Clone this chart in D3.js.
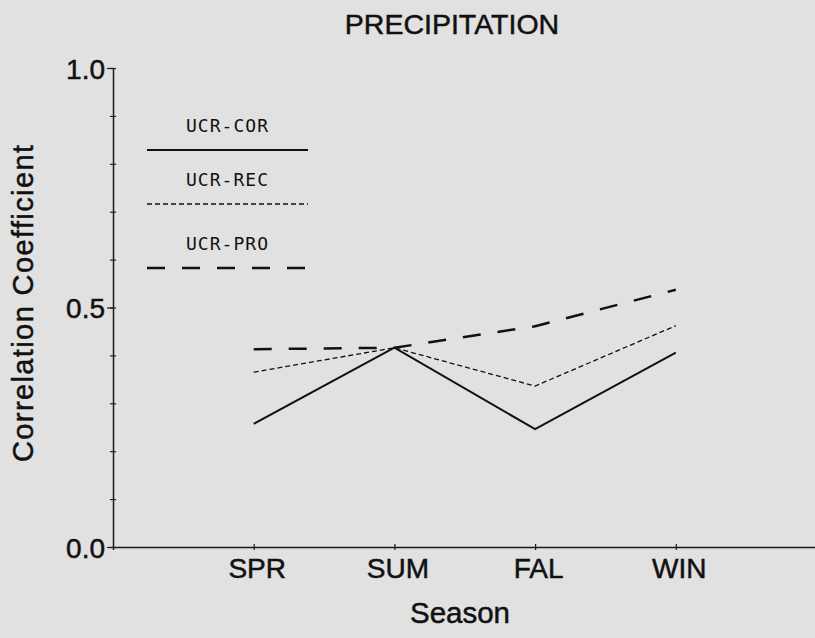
<!DOCTYPE html>
<html>
<head>
<meta charset="utf-8">
<script src="https://cdn.jsdelivr.net/npm/d3@7"></script>
<style>
    body { margin: 0; background: #e1e1e1; }
    svg { display: block; }
    .axis path, .axis line { stroke: #1a1a1a; }
    .axis text, .label { font-family: "Liberation Sans", Arial, sans-serif; fill: #111; stroke: #111; stroke-width: 0.5; }
</style>
</head>
<body>
<script>
    // chart data
    var seasons = ["SPR", "SUM", "FAL", "WIN"];
    var seriesNames = ["UCR-COR", "UCR-REC", "UCR-PRO"];
    var corValues = [0.257, 0.416, 0.246, 0.406];
    var recValues = [0.365, 0.416, 0.336, 0.462];
    var proValues = [0.413, 0.416, 0.461, 0.537];
    var yTicks = [0, 0.1, 0.2, 0.3, 0.4, 0.5, 0.6, 0.7, 0.8, 0.9, 1.0];
    var yLabels = [0, 0.5, 1.0];

    var width = 815, height = 638;

    var svg = d3.select("body")
        .append("svg")
        .attr("width", width)
        .attr("height", height);

    // scales: seasons sit at positions 1..4, axis runs on to the edge
    var x = d3.scaleLinear().domain([0, 5]).range([113, 816.5]);
    var y = d3.scaleLinear().domain([0, 1]).range([547, 68]);

    // y axis, minor ticks cross the line, major ticks carry labels
    svg.append("g")
        .attr("class", "axis")
        .attr("transform", "translate(" + x(0) + ",0)")
        .call(d3.axisLeft(y).tickValues(yTicks).tickSizeInner(3).tickSizeOuter(0).tickFormat(""))
        .call(function (g) {
            g.select(".domain").attr("stroke-width", 1.5);
            g.selectAll(".tick line").attr("x2", 3).attr("x1", -3).attr("stroke-width", 1.2);
        });

    svg.append("g")
        .attr("class", "axis")
        .attr("transform", "translate(" + x(0) + ",0)")
        .call(d3.axisLeft(y).tickValues(yLabels).tickSize(6).tickPadding(2).tickFormat(d3.format(".1f")))
        .call(function (g) {
            g.select(".domain").remove();
            g.selectAll(".tick line").attr("stroke-width", 1.2);
            g.selectAll(".tick text").attr("font-size", 28).attr("dy", "0.36em");
        });

    // x axis
    svg.append("g")
        .attr("class", "axis")
        .attr("transform", "translate(0," + y(0) + ")")
        .call(d3.axisBottom(x).tickValues([1, 2, 3, 4]).tickSize(3).tickPadding(6)
            .tickFormat(function (d) { return seasons[d - 1]; }))
        .call(function (g) {
            g.select(".domain").attr("stroke-width", 1.5);
            g.selectAll(".tick line").attr("y1", -3).attr("stroke-width", 1.2);
            g.selectAll(".tick text").attr("font-size", 28).attr("dy", "0.8em")
                .attr("transform", "translate(3,0)");
        });

    // titles
    svg.append("text")
        .attr("class", "label")
        .attr("x", 452)
        .attr("y", 34)
        .attr("text-anchor", "middle")
        .attr("font-size", 28.5)
        .text("PRECIPITATION");

    svg.append("text")
        .attr("class", "label")
        .attr("x", 460)
        .attr("y", 623)
        .attr("text-anchor", "middle")
        .attr("font-size", 29.5)
        .text("Season");

    svg.append("text")
        .attr("class", "label")
        .attr("transform", "translate(33,303.5) rotate(-90)")
        .attr("text-anchor", "middle")
        .attr("font-size", 29)
        .attr("textLength", 317)
        .text("Correlation Coefficient");

    // line styles per series
    var styles = [
        { values: corValues, width: 2, dash: null },
        { values: recValues, width: 1.3, dash: "5,3" },
        { values: proValues, width: 2.5, dash: "18,17" }
    ];

    var line = d3.line()
        .x(function (d, i) { return x(i + 1); })
        .y(function (d) { return y(d); });

    styles.forEach(function (s) {
        svg.append("path")
            .datum(s.values)
            .attr("d", line)
            .attr("fill", "none")
            .attr("stroke", "#111")
            .attr("stroke-width", s.width)
            .attr("stroke-dasharray", s.dash);
    });

    // legend in upper left
    var legendY = [150, 204, 268];
    seriesNames.forEach(function (name, i) {
        svg.append("text")
            .attr("x", 227)
            .attr("y", legendY[i] - 18)
            .attr("text-anchor", "middle")
            .attr("font-family", "DejaVu Sans Mono, monospace")
            .attr("font-size", 18)
            .attr("textLength", 82)
            .attr("fill", "#111")
            .text(name);

        svg.append("line")
            .attr("x1", 147)
            .attr("x2", 308)
            .attr("y1", legendY[i])
            .attr("y2", legendY[i])
            .attr("stroke", "#111")
            .attr("stroke-width", styles[i].width)
            .attr("stroke-dasharray", styles[i].dash);
    });
</script>
</body>
</html>
